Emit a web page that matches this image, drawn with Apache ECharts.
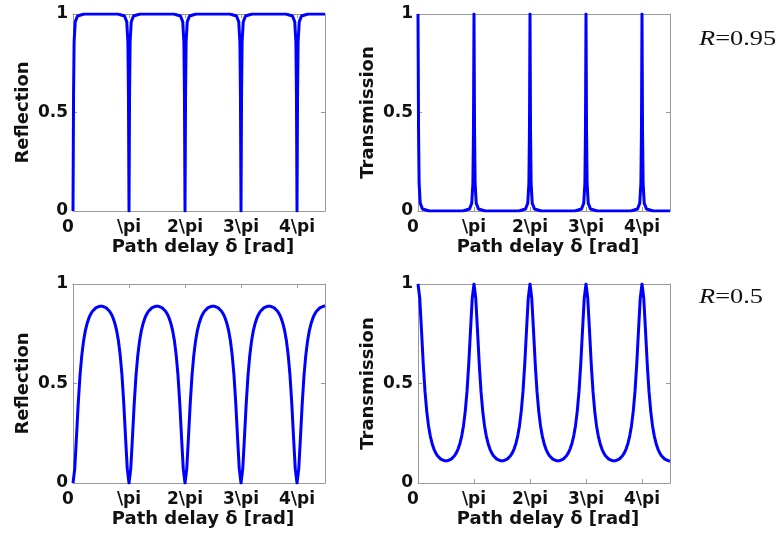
<!DOCTYPE html>
<html>
<head>
<meta charset="utf-8">
<script src="https://cdn.jsdelivr.net/npm/echarts@6/dist/echarts.min.js"></script>
<style>
html, body { margin: 0; padding: 0; background: #fff; }
#chart { width: 784px; height: 537px; }
</style>
</head>
<body>
<div id="chart"></div>
<script>
// x positions are in units of pi
const xTop = [0, 0.01, 0.02, 0.04, 0.08, 0.2, 0.5,
  0.8, 0.92, 0.96, 0.98, 0.99, 1, 1.01, 1.02, 1.04, 1.08, 1.2, 1.5,
  1.8, 1.92, 1.96, 1.98, 1.99, 2, 2.01, 2.02, 2.04, 2.08, 2.2, 2.5,
  2.8, 2.92, 2.96, 2.98, 2.99, 3, 3.01, 3.02, 3.04, 3.08, 3.2, 3.5,
  3.8, 3.92, 3.96, 3.98, 3.99, 4, 4.01, 4.02, 4.04, 4.08, 4.2, 4.5]

// R = 0.95
const reflTop = [0, 0.6, 0.86, 0.96, 0.99, 1, 1,
  1, 0.99, 0.96, 0.86, 0.6, 0, 0.6, 0.86, 0.96, 0.99, 1, 1,
  1, 0.99, 0.96, 0.86, 0.6, 0, 0.6, 0.86, 0.96, 0.99, 1, 1,
  1, 0.99, 0.96, 0.86, 0.6, 0, 0.6, 0.86, 0.96, 0.99, 1, 1,
  1, 0.99, 0.96, 0.86, 0.6, 0, 0.6, 0.86, 0.96, 0.99, 1, 1]
const transTop = [1, 0.4, 0.14, 0.04, 0.01, 0, 0,
  0, 0.01, 0.04, 0.14, 0.4, 1, 0.4, 0.14, 0.04, 0.01, 0, 0,
  0, 0.01, 0.04, 0.14, 0.4, 1, 0.4, 0.14, 0.04, 0.01, 0, 0,
  0, 0.01, 0.04, 0.14, 0.4, 1, 0.4, 0.14, 0.04, 0.01, 0, 0,
  0, 0.01, 0.04, 0.14, 0.4, 1, 0.4, 0.14, 0.04, 0.01, 0, 0]

// R = 0.5, sampled every pi/32 from 0 to 4.5 pi
const xStepBot = 1 / 32
const reflBot = [
  0, 0.071, 0.233, 0.403, 0.54, 0.64, 0.712, 0.763, 0.8, 0.827, 0.847, 0.862, 0.872, 0.88, 0.885, 0.888,
  0.889, 0.888, 0.885, 0.88, 0.872, 0.862, 0.847, 0.827, 0.8, 0.763, 0.712, 0.64, 0.54, 0.403, 0.233, 0.071,
  0, 0.071, 0.233, 0.403, 0.54, 0.64, 0.712, 0.763, 0.8, 0.827, 0.847, 0.862, 0.872, 0.88, 0.885, 0.888,
  0.889, 0.888, 0.885, 0.88, 0.872, 0.862, 0.847, 0.827, 0.8, 0.763, 0.712, 0.64, 0.54, 0.403, 0.233, 0.071,
  0, 0.071, 0.233, 0.403, 0.54, 0.64, 0.712, 0.763, 0.8, 0.827, 0.847, 0.862, 0.872, 0.88, 0.885, 0.888,
  0.889, 0.888, 0.885, 0.88, 0.872, 0.862, 0.847, 0.827, 0.8, 0.763, 0.712, 0.64, 0.54, 0.403, 0.233, 0.071,
  0, 0.071, 0.233, 0.403, 0.54, 0.64, 0.712, 0.763, 0.8, 0.827, 0.847, 0.862, 0.872, 0.88, 0.885, 0.888,
  0.889, 0.888, 0.885, 0.88, 0.872, 0.862, 0.847, 0.827, 0.8, 0.763, 0.712, 0.64, 0.54, 0.403, 0.233, 0.071,
  0, 0.071, 0.233, 0.403, 0.54, 0.64, 0.712, 0.763, 0.8, 0.827, 0.847, 0.862, 0.872, 0.88, 0.885, 0.888,
  0.889]
const transBot = [
  1, 0.929, 0.767, 0.597, 0.46, 0.36, 0.288, 0.237, 0.2, 0.173, 0.153, 0.138, 0.128, 0.12, 0.115, 0.112,
  0.111, 0.112, 0.115, 0.12, 0.128, 0.138, 0.153, 0.173, 0.2, 0.237, 0.288, 0.36, 0.46, 0.597, 0.767, 0.929,
  1, 0.929, 0.767, 0.597, 0.46, 0.36, 0.288, 0.237, 0.2, 0.173, 0.153, 0.138, 0.128, 0.12, 0.115, 0.112,
  0.111, 0.112, 0.115, 0.12, 0.128, 0.138, 0.153, 0.173, 0.2, 0.237, 0.288, 0.36, 0.46, 0.597, 0.767, 0.929,
  1, 0.929, 0.767, 0.597, 0.46, 0.36, 0.288, 0.237, 0.2, 0.173, 0.153, 0.138, 0.128, 0.12, 0.115, 0.112,
  0.111, 0.112, 0.115, 0.12, 0.128, 0.138, 0.153, 0.173, 0.2, 0.237, 0.288, 0.36, 0.46, 0.597, 0.767, 0.929,
  1, 0.929, 0.767, 0.597, 0.46, 0.36, 0.288, 0.237, 0.2, 0.173, 0.153, 0.138, 0.128, 0.12, 0.115, 0.112,
  0.111, 0.112, 0.115, 0.12, 0.128, 0.138, 0.153, 0.173, 0.2, 0.237, 0.288, 0.36, 0.46, 0.597, 0.767, 0.929,
  1, 0.929, 0.767, 0.597, 0.46, 0.36, 0.288, 0.237, 0.2, 0.173, 0.153, 0.138, 0.128, 0.12, 0.115, 0.112,
  0.111]

const yNames = ['Reflection', 'Transmission', 'Reflection', 'Transmission']
const rLabels = ['0.95', '0.5']

const font = 'DejaVu Sans, sans-serif'
const boxColor = '#999'

const grids = [
  { left: 73, top: 14, width: 252, height: 197 },
  { left: 418, top: 14, width: 252, height: 197 },
  { left: 73, top: 284, width: 252, height: 199 },
  { left: 418, top: 284, width: 252, height: 199 }
]

const piLabel = (v) => {
  if (v === 0) return '{z|0}'
  if (v === 1) return '\\pi'
  if (Number.isInteger(v)) return v + '\\pi'
  return ''
}

const labelStyle = { color: '#111', fontWeight: 'bold', fontSize: 17, fontFamily: font }
const nameStyle = { color: '#111', fontWeight: 'bold', fontSize: 18, fontFamily: font }

let xAxes = []
let yAxes = []
for (let i = 0; i < 4; i++) {
  xAxes.push({
    gridIndex: i, type: 'value', min: 0, max: 4.5, interval: 1, position: 'bottom',
    axisLine: { show: true, onZero: false, lineStyle: { color: boxColor, width: 1 } },
    axisTick: { show: true, inside: true, length: 4, lineStyle: { color: boxColor } },
    splitLine: { show: false },
    axisLabel: Object.assign({ margin: 8, formatter: piLabel,
      rich: { z: Object.assign({ padding: [0, 10, 0, 0] }, labelStyle) } }, labelStyle),
    name: 'Path delay δ [rad]', nameLocation: 'middle', nameGap: 27,
    nameTextStyle: Object.assign({ padding: [0, 0, 0, 8] }, nameStyle)
  })
  xAxes.push({
    gridIndex: i, type: 'value', min: 0, max: 4.5, interval: 1, position: 'top',
    axisLine: { show: true, onZero: false, lineStyle: { color: boxColor, width: 1 } },
    axisTick: { show: true, inside: true, length: 4, lineStyle: { color: boxColor } },
    splitLine: { show: false }, axisLabel: { show: false }
  })
  yAxes.push({
    gridIndex: i, type: 'value', min: 0, max: 1, interval: 0.5, position: 'left',
    axisLine: { show: true, onZero: false, lineStyle: { color: boxColor, width: 1 } },
    axisTick: { show: true, inside: true, length: 4, lineStyle: { color: boxColor } },
    splitLine: { show: false },
    axisLabel: Object.assign({ margin: 5 }, labelStyle),
    name: yNames[i], nameLocation: 'middle', nameGap: 41,
    nameTextStyle: nameStyle
  })
  yAxes.push({
    gridIndex: i, type: 'value', min: 0, max: 1, interval: 0.5, position: 'right',
    axisLine: { show: true, onZero: false, lineStyle: { color: boxColor, width: 1 } },
    axisTick: { show: true, inside: true, length: 4, lineStyle: { color: boxColor } },
    splitLine: { show: false }, axisLabel: { show: false }
  })
}

const zip = (xs, ys) => xs.map((x, k) => [x, ys[k]])
const onGrid = (ys, step) => ys.map((y, k) => [k * step, y])
const seriesData = [
  zip(xTop, reflTop),
  zip(xTop, transTop),
  onGrid(reflBot, xStepBot),
  onGrid(transBot, xStepBot)
]

const series = seriesData.map((d, i) => ({
  type: 'line', xAxisIndex: i * 2, yAxisIndex: i * 2, data: d,
  showSymbol: false, symbol: 'none',
  lineStyle: { color: '#0000ff', width: 3, join: 'round' }
}))

const rText = (label, top) => ({
  type: 'text', left: 699, top: top, scaleX: 1.2,
  style: {
    text: '{i|R}{n|=' + label + '}',
    rich: {
      i: { fontFamily: 'Liberation Serif', fontStyle: 'italic', fontSize: 22, fill: '#111' },
      n: { fontFamily: 'Liberation Serif', fontSize: 22, fill: '#111' }
    }
  }
})

const option = {
  animation: false,
  backgroundColor: '#fff',
  grid: grids,
  xAxis: xAxes,
  yAxis: yAxes,
  series: series,
  graphic: [rText(rLabels[0], 28), rText(rLabels[1], 286)]
}

const chart = echarts.init(document.getElementById('chart'))
chart.setOption(option)
</script>
</body>
</html>
